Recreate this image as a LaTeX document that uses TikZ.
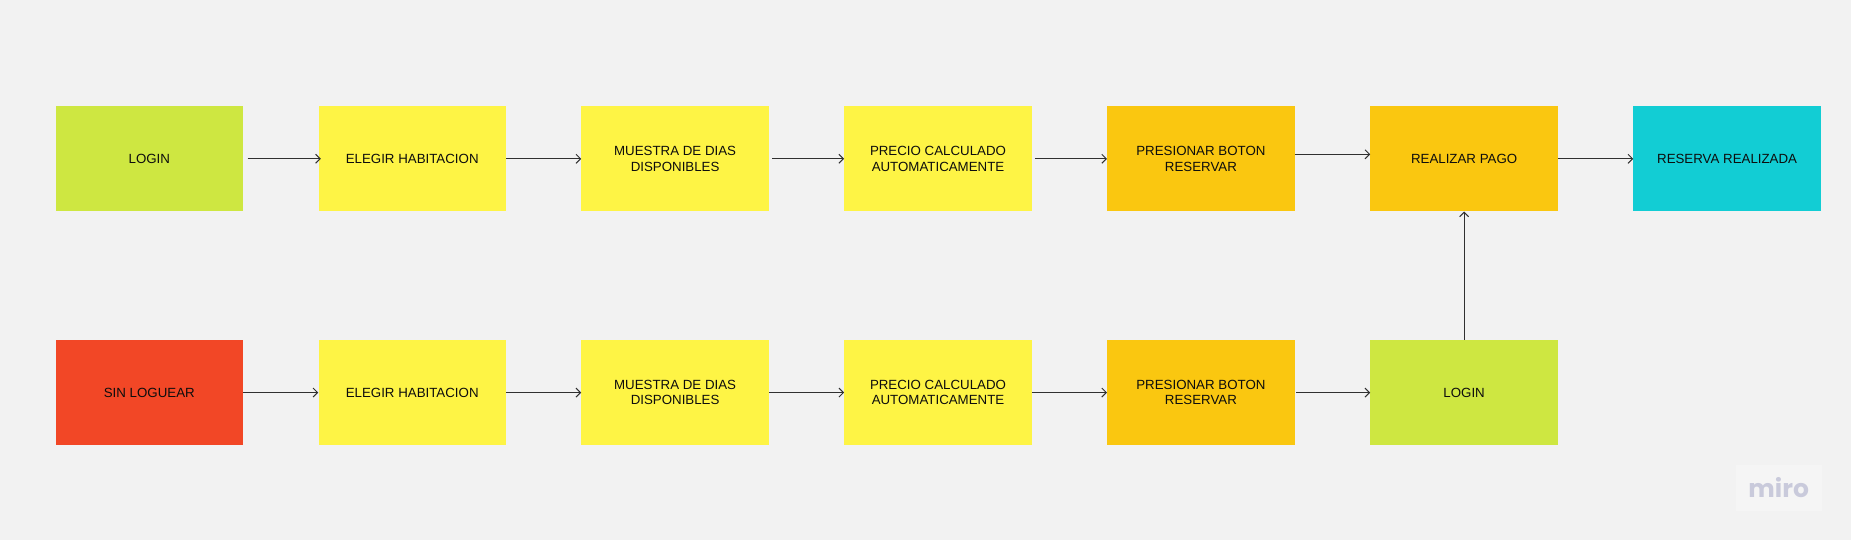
\documentclass[tikz,border=0pt]{standalone}
\usepackage{fontspec}
\setmainfont{Liberation Sans}
\newfontfamily\logofont{Poppins}
\usetikzlibrary{arrows.meta}
\definecolor{fondo}{HTML}{F2F2F2}
\definecolor{lima}{HTML}{CEE741}
\definecolor{amarillo}{HTML}{FEF445}
\definecolor{naranja}{HTML}{FAC710}
\definecolor{rojo}{HTML}{F24726}
\definecolor{turquesa}{HTML}{12CDD4}
\definecolor{tinta}{HTML}{0D0D0D}
\definecolor{linea}{HTML}{303030}
\definecolor{gris}{HTML}{C9CADB}
\tikzset{
	caja/.style={minimum width=187.4pt, minimum height=105pt, inner sep=2pt, align=center, text=tinta,
		font=\fontsize{13.3}{15.5}\selectfont},
	flecha/.style={draw=linea, line width=1pt, -{Straight Barb[length=4.5pt,width=9pt]}}
}
\begin{document}
\begin{tikzpicture}[x=1pt,y=1pt]
				\fill[fondo] (0,0) rectangle (1851,540);
				\node[caja, fill=lima] (login1) at (149.3,381.2) {LOGIN};
				\node[caja, fill=amarillo] (elegir1) at (412.2,381.2) {ELEGIR HABITACION};
				\node[caja, fill=amarillo] (muestra1) at (675.1,381.2) {MUESTRA DE DIAS\\DISPONIBLES};
				\node[caja, fill=amarillo] (precio1) at (938,381.2) {PRECIO CALCULADO\\AUTOMATICAMENTE};
				\node[caja, fill=naranja] (presionar1) at (1200.9,381.2) {PRESIONAR BOTON\\RESERVAR};
				\node[caja, fill=naranja] (pago) at (1464.1,381.2) {REALIZAR PAGO};
				\node[caja, fill=turquesa] (reserva) at (1727.1,381.2) {RESERVA REALIZADA};
				\node[caja, fill=rojo] (sinlogin) at (149.3,147.4) {SIN LOGUEAR};
				\node[caja, fill=amarillo] (elegir2) at (412.2,147.4) {ELEGIR HABITACION};
				\node[caja, fill=amarillo] (muestra2) at (675.1,147.4) {MUESTRA DE DIAS\\DISPONIBLES};
				\node[caja, fill=amarillo] (precio2) at (938,147.4) {PRECIO CALCULADO\\AUTOMATICAMENTE};
				\node[caja, fill=naranja] (presionar2) at (1200.9,147.4) {PRESIONAR BOTON\\RESERVAR};
				\node[caja, fill=lima] (login2) at (1464.1,147.4) {LOGIN};
				\node[fill=white, fill opacity=0.25, text opacity=1, text=gris, minimum width=86pt, minimum height=46pt, inner sep=0pt,
					font=\logofont\bfseries\fontsize{25}{25}\selectfont] (miro) at (1778.7,52) {miro};
				\draw[flecha, shorten <=4.5pt, shorten >=-2.5pt] (login1) -- (elegir1);
				\draw[flecha] (elegir1) -- (muestra1);
				\draw[flecha, shorten <=3pt] (muestra1) -- (precio1);
				\draw[flecha, shorten <=3pt] (precio1) -- (presionar1);
				\draw[flecha] ([yshift=4.5pt]presionar1.east) -- ([yshift=4.5pt]pago.west);
				\draw[flecha] (pago) -- (reserva);
				\draw[flecha] (sinlogin) -- (elegir2);
				\draw[flecha] (elegir2) -- (muestra2);
				\draw[flecha] (muestra2) -- (precio2);
				\draw[flecha] (precio2) -- (presionar2);
				\draw[flecha, shorten <=1.5pt] (presionar2) -- (login2);
				\draw[flecha] (login2) -- (pago);
\end{tikzpicture}
\end{document}
